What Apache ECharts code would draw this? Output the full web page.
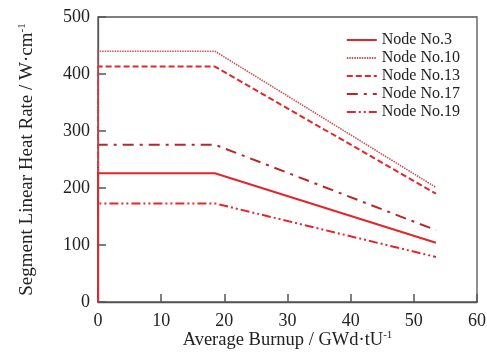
<!DOCTYPE html>
<html><head><meta charset="utf-8">
<script src="https://cdn.jsdelivr.net/npm/echarts@6/dist/echarts.min.js"></script>
<style>html,body{margin:0;padding:0;background:#fff}#c{width:487px;height:352px}</style>
</head><body><div id="c"></div>
<script>
const seriesNames = ['Node No.3','Node No.10','Node No.13','Node No.17','Node No.19'];
const burnupX = [0, 0, 18.5, 53.5];
const node3 = [0, 226, 226, 104];
const node10 = [0, 440, 440, 201];
const node13 = [0, 413, 413, 190];
const node17 = [0, 276, 276, 126];
const node19 = [0, 173, 173, 79];
const xTicks = [0,10,20,30,40,50,60];
const yTicks = [0,100,200,300,400,500];

const values = [node3, node10, node13, node17, node19];
const colors = ['#e3262b','#c8545a','#e3262b','#b8262a','#e3262b'];
const dashes = ['solid',[1.5,1],[6,3],[11,6,3,6],[9,3,2,3,2,3]];
const widths = [2,1.6,2,2,2];

const font = 'Liberation Serif';
const supStyle = {fontSize:11,verticalAlign:'top',padding:[0,0,9,0],fontFamily:font,color:'#222'};
const chart = echarts.init(document.getElementById('c'));
chart.setOption({
  animation:false,
  textStyle:{fontFamily:font},
  grid:{left:98,top:17,right:10,bottom:50,show:true,borderColor:'#555',borderWidth:1.3,
        outerBoundsMode:'none',containLabel:false},
  legend:{
    orient:'vertical', right:22, top:27, itemGap:2, itemWidth:30, itemHeight:14,
    itemStyle:{color:'transparent',borderWidth:0},
    textStyle:{fontFamily:font,fontSize:16,color:'#222'},
    data:seriesNames
  },
  xAxis:{
    type:'value', min:xTicks[0], max:xTicks[xTicks.length-1], interval:10,
    name:'Average Burnup / GWd·tU{s|-1}', nameLocation:'middle', nameGap:28, nameMoveOverlap:false,
    nameTextStyle:{fontFamily:font,fontSize:18.5,color:'#222',rich:{s:supStyle}},
    axisLine:{onZero:false,lineStyle:{color:'#555',width:1.3}},
    axisTick:{inside:true,length:8,lineStyle:{color:'#555',width:1.5}},
    axisLabel:{fontFamily:font,fontSize:18,color:'#222',margin:10},
    splitLine:{show:false}
  },
  yAxis:{
    type:'value', min:yTicks[0], max:yTicks[yTicks.length-1], interval:100,
    name:'Segment Linear Heat Rate / W·cm{s|-1}', nameLocation:'middle', nameGap:61, nameMoveOverlap:false,
    nameTextStyle:{fontFamily:font,fontSize:19,color:'#222',rich:{s:supStyle}},
    axisLine:{lineStyle:{color:'#555',width:1.3}},
    axisTick:{inside:true,length:8,lineStyle:{color:'#555',width:1.5}},
    axisLabel:{fontFamily:font,fontSize:18,color:'#222',margin:8},
    splitLine:{show:false}
  },
  series: seriesNames.map((n,i)=>({
    name:n, type:'line', symbol:'none', z: 10-i,
    data: burnupX.map((x,j)=>[x, values[i][j]]),
    color: colors[i],
    lineStyle:{color:colors[i], width:widths[i], type:dashes[i]}
  }))
});
</script></body></html>
